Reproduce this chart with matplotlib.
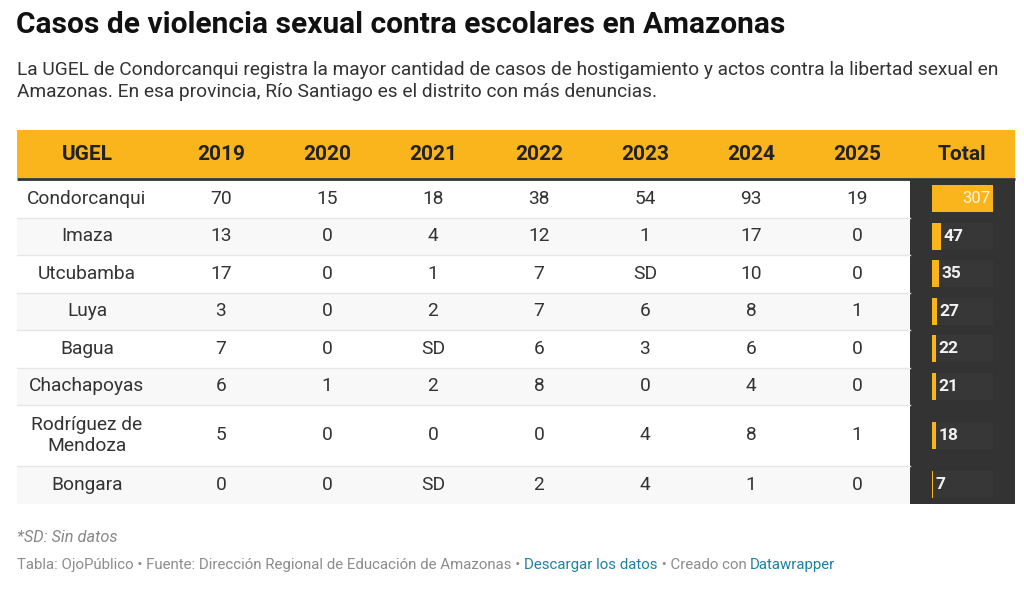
import matplotlib
matplotlib.use("Agg")
import matplotlib.pyplot as plt
from matplotlib.patches import Rectangle

plt.rcParams['font.family'] = ['Roboto', 'DejaVu Sans']

# data
ugel = ["Condorcanqui", "Imaza", "Utcubamba", "Luya", "Bagua", "Chachapoyas",
        "Rodríguez de\nMendoza", "Bongara"]
years = ["2019", "2020", "2021", "2022", "2023", "2024", "2025"]
v2019 = ["70", "13", "17", "3", "7", "6", "5", "0"]
v2020 = ["15", "0", "0", "0", "0", "1", "0", "0"]
v2021 = ["18", "4", "1", "2", "SD", "2", "0", "SD"]
v2022 = ["38", "12", "7", "7", "6", "8", "0", "2"]
v2023 = ["54", "1", "SD", "6", "3", "0", "4", "4"]
v2024 = ["93", "17", "10", "8", "6", "4", "8", "1"]
v2025 = ["19", "0", "0", "1", "0", "0", "1", "0"]
total = [307, 47, 35, 27, 22, 21, 18, 7]

title = "Casos de violencia sexual contra escolares en Amazonas"
subtitle = ("La UGEL de Condorcanqui registra la mayor cantidad de casos de hostigamiento y actos contra la libertad sexual en\n"
            "Amazonas. En esa provincia, Río Santiago es el distrito con más denuncias.")

W, H = 1024, 596
fig = plt.figure(figsize=(W / 100, H / 100), dpi=100)
ax = fig.add_axes([0, 0, 1, 1])
ax.set_xlim(0, W)
ax.set_ylim(H, 0)
ax.axis('off')

yellow = "#f9b51b"
dark = "#333333"

# title / subtitle
ax.text(16, 25, title, fontsize=21.5, fontweight='bold', color="#111111", va='center', ha='left')
ax.text(17, 81, subtitle, fontsize=13.8, color="#333333", va='center', ha='left', linespacing=1.32)

# layout of table
left, right = 17, 1015
head_top, head_bot = 130, 178
col_x = [87, 221, 327, 433, 539, 645, 751, 857, 962]
row_h = [37.5, 37.5, 37.5, 37.5, 37.5, 37.5, 61, 37.5]

# header
ax.add_patch(Rectangle((left, head_top), right - left, head_bot - head_top, color=yellow, lw=0))
ax.plot([left, right], [head_bot + 1, head_bot + 1], color=dark, lw=2, solid_capstyle='butt')
headers = ["UGEL"] + years + ["Total"]
for x, h in zip(col_x, headers):
    ax.text(x, (head_top + head_bot) / 2 + 1, h, fontsize=15, fontweight='bold',
            color="#222222", ha='center', va='center')

# body
cols = [v2019, v2020, v2021, v2022, v2023, v2024, v2025]
tot_left = 910
bar_x0 = 932
bar_max = 61
y = head_bot + 2
max_total = max(total)
for i, name in enumerate(ugel):
    h = row_h[i]
    if i % 2 == 1:
        ax.add_patch(Rectangle((left, y), tot_left - left, h, color="#f8f8f8", lw=0))
    yc = y + h / 2
    ax.text(col_x[0], yc, name, fontsize=13.8, color="#333333", ha='center', va='center',
            linespacing=1.15)
    for j, c in enumerate(cols):
        ax.text(col_x[j + 1], yc, c[i], fontsize=13.8, color="#333333", ha='center', va='center')
    # total column
    ax.add_patch(Rectangle((tot_left, y), right - tot_left, h, color="#333333", lw=0))
    ax.add_patch(Rectangle((bar_x0, yc - 13.5), bar_max, 27, color="#373737", lw=0))
    bw = total[i] / max_total * bar_max
    ax.add_patch(Rectangle((bar_x0, yc - 13.5), bw, 27, color=yellow, lw=0))
    if i == 0:
        ax.text(bar_x0 + bw - 3, yc, str(total[i]), fontsize=12, color="#fff4dc",
                ha='right', va='center')
    else:
        ax.text(bar_x0 + bw + 2.5, yc, str(total[i]), fontsize=12.5, fontweight='bold',
                color="#f2f2f2", ha='left', va='center')
    y += h
    if i < len(ugel) - 1:
        ax.plot([left, tot_left], [y, y], color="#e6e6e6", lw=1)

# footer
ax.text(17, 538, "*SD: Sin datos", fontsize=11.8, fontstyle='italic', color="#888888",
        ha='left', va='center')

parts = [("Tabla: OjoPúblico • Fuente: Dirección Regional de Educación de Amazonas • ", "#8c8c8c"),
         ("Descargar los datos", "#1d81a2"),
         (" • Creado con ", "#8c8c8c"),
         ("Datawrapper", "#1d81a2")]
fig.canvas.draw()
renderer = fig.canvas.get_renderer()
xpos = 17
inv = ax.transData.inverted()
for s, col in parts:
    t = ax.text(xpos, 565, s, fontsize=10.8, color=col, ha='left', va='center')
    bb = t.get_window_extent(renderer=renderer)
    x1 = inv.transform((bb.x1, bb.y0))[0]
    xpos = x1

fig.savefig("out.png", dpi=100, facecolor="white")
